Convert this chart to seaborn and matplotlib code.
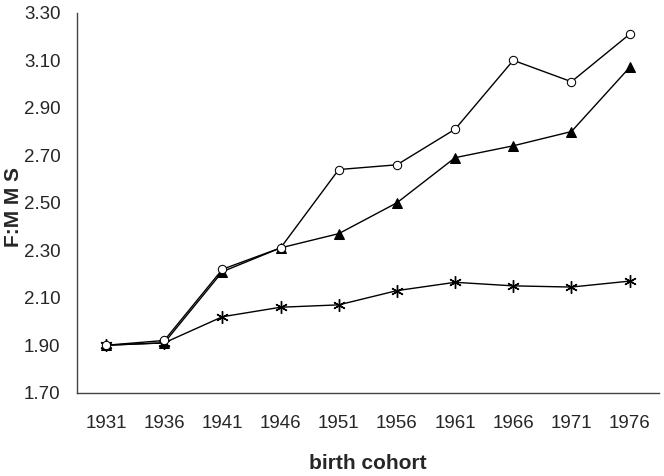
import matplotlib
matplotlib.use("Agg")
import matplotlib.pyplot as plt
import pandas as pd
import seaborn as sns

# Data
cohorts = ["1931", "1936", "1941", "1946", "1951", "1956", "1961", "1966", "1971", "1976"]
circle_vals = [1.90, 1.92, 2.22, 2.31, 2.64, 2.66, 2.81, 3.10, 3.01, 3.21]
triangle_vals = [1.90, 1.91, 2.21, 2.31, 2.37, 2.50, 2.69, 2.74, 2.80, 3.07]
star_vals = [1.90, 1.91, 2.02, 2.06, 2.07, 2.13, 2.165, 2.15, 2.145, 2.17]

df = pd.DataFrame({
    "pos": list(range(len(cohorts))) * 3,
    "value": circle_vals + triangle_vals + star_vals,
    "series": ["circle"] * 10 + ["triangle"] * 10 + ["star"] * 10,
})

sns.set_style("white")
plt.rcParams["font.family"] = ["Liberation Sans", "DejaVu Sans"]

fig = plt.figure(figsize=(6.64, 4.76), dpi=100)
ax = fig.add_axes([0.116, 0.175, 0.876, 0.798])

styles = {
    "circle": dict(marker="o", markerfacecolor="white", markeredgecolor="black", markersize=6),
    "triangle": dict(marker="^", markerfacecolor="black", markeredgecolor="black", markersize=7),
    "star": dict(marker=(6, 2, 0), markerfacecolor="black", markeredgecolor="black",
                 markersize=9, markeredgewidth=1.0),
}
for name in ["star", "triangle", "circle"]:
    sub = df[df["series"] == name]
    sns.lineplot(data=sub, x="pos", y="value", color="black", linewidth=1.0,
                 ax=ax, **styles[name])

ax.set_xlim(-0.5, 9.5)
ax.set_ylim(1.70, 3.30)
ax.set_yticks([1.70 + 0.2 * i for i in range(9)])
ax.set_yticklabels([f"{1.70 + 0.2 * i:.2f}" for i in range(9)], fontsize=13.5)

# Ticks at category boundaries, labels at centers
ax.set_xticks([i - 0.5 for i in range(11)])
ax.set_xticklabels([])
ax.set_xticks(list(range(10)), minor=True)
ax.set_xticklabels(cohorts, minor=True, fontsize=13.5)
ax.tick_params(axis="x", which="major", direction="out", length=6, width=1, color="#444444")
ax.tick_params(axis="x", which="minor", length=0, pad=16)
ax.tick_params(axis="y", direction="out", length=6, width=1, color="#444444", pad=6)

for s in ["top", "right"]:
    ax.spines[s].set_visible(False)
for s in ["left", "bottom"]:
    ax.spines[s].set_color("#444444")
    ax.spines[s].set_linewidth(1)

ax.set_xlabel("birth cohort", fontsize=15, fontweight="bold", labelpad=16)
ax.set_ylabel("F:M M S", fontsize=15, fontweight="bold")
ax.yaxis.set_label_coords(-0.093, 0.488)

fig.savefig("out.png", dpi=100)
